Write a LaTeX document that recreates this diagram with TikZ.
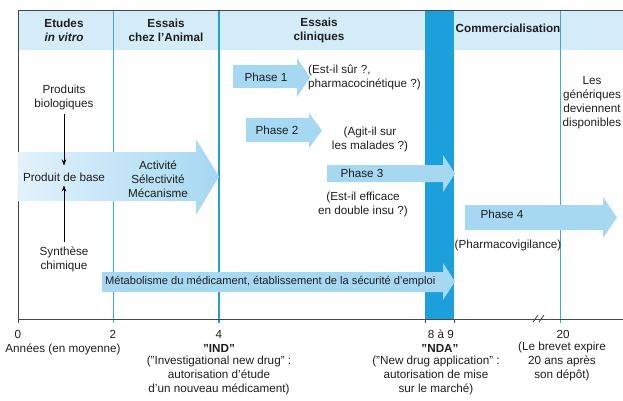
\documentclass[tikz,border=0pt]{standalone}
\usepackage{fontspec}
\setmainfont{Liberation Sans}
\usetikzlibrary{arrows.meta}
\definecolor{hdrblue}{RGB}{212,236,248}
\definecolor{arrowblue}{RGB}{166,216,242}
\definecolor{arrowpale}{RGB}{226,242,251}
\definecolor{bandblue}{RGB}{28,160,220}
\definecolor{lineblue}{RGB}{60,170,222}
\definecolor{framegray}{RGB}{70,70,70}
\definecolor{txt}{RGB}{30,30,30}
\begin{document}
\begin{tikzpicture}[x=1pt,y=-1pt,
  every node/.style={inner sep=0pt, align=center, text=txt, font=\fontsize{11.7}{14}\selectfont},
  hdr/.style={font=\fontsize{11.7}{14}\selectfont\bfseries},
  bold/.style={font=\fontsize{11.7}{14}\selectfont\bfseries},
  fat/.style={fill=arrowblue, draw=none},
  vline/.style={draw=lineblue, line width=1pt},
  frame/.style={draw=framegray, line width=0.9pt},
  conn/.style={draw=black, line width=0.8pt, -{Stealth[length=6pt,width=4.5pt]}},
  tickmark/.style={draw=framegray, line width=0.8pt}]
\useasboundingbox (0,0) rectangle (623,401);
% header band
\fill[hdrblue] (18,10) rectangle (623,50);
% vertical lines
\draw[vline] (113,10) -- (113,323);
\draw[vline] (560,10) -- (560,323);
\draw[draw=bandblue, line width=2pt] (219,10) -- (219,323);
\fill[bandblue] (425,10) rectangle (454,319);
% frame and axis
\draw[frame] (623,10) -- (18,10) -- (18,319) -- (623,319);
\draw[tickmark] (18,319) -- (18,323);
\draw[tickmark] (425,319) -- (425,323);
\draw[tickmark] (454,319) -- (454,323);
\draw[tickmark] (533,322) -- (538,315);
\draw[tickmark] (539,322) -- (544,315);
% big arrows
\path[left color=arrowpale, right color=arrowblue, draw=none]
  (18,152) -- (196,152) -- (196,139) -- (219,176.5) -- (196,215) -- (196,201) -- (18,201) -- cycle;
\path[fat] (233,65) -- (297,65) -- (297,58) -- (310,77.5) -- (297,97) -- (297,88) -- (233,88) -- cycle;
\path[fat] (246,118) -- (309,118) -- (309,113) -- (322,130.5) -- (309,148) -- (309,142) -- (246,142) -- cycle;
\path[fat] (327,165) -- (443,165) -- (443,155) -- (455,173.5) -- (443,192) -- (443,182) -- (327,182) -- cycle;
\path[left color=arrowblue, middle color=arrowpale, right color=arrowblue, draw=none]
  (465,205) -- (603,205) -- (603,197) -- (617,217.5) -- (603,238) -- (603,230) -- (465,230) -- cycle;
\path[fat] (102,272) -- (443,272) -- (443,263) -- (455,281.5) -- (443,300) -- (443,292) -- (102,292) -- cycle;
% header texts
\node[hdr] (h1) at (64,30) {Etudes\\\textit{in vitro}};
\node[hdr] (h2) at (166,30) {Essais\\chez l'Animal};
\node[hdr] (h3) at (319,30) {Essais\\cliniques};
\node[hdr] (h4) at (508,28) {Commercialisation};
% left column
\node (bio) at (64,97) {Produits\\biologiques};
\node (base) at (64,177) {Produit de base};
\node (synth) at (64,259) {Synthèse\\chimique};
\draw[conn, shorten <=4pt, shorten >=7pt] (bio.south) -- (base.north);
\draw[conn, shorten <=4pt, shorten >=4pt] (synth.north) -- (base.south);
\node (act) at (158,179) {Activité\\Sélectivité\\Mécanisme};
% phases
\node (p1) at (266,77) {Phase 1};
\node[anchor=west, align=left] (q1) at (308,77) {(Est-il sûr ?,\\pharmacocinétique ?)};
\node (p2) at (277,130) {Phase 2};
\node (q2) at (370,139.5) {(Agit-il sur\\les malades ?)};
\node (p3) at (362,173) {Phase 3};
\node (q3) at (363,204) {(Est-il efficace\\en double insu ?)};
\node (p4) at (502,214) {Phase 4};
\node (q4) at (508,245) {(Pharmacovigilance)};
\node[anchor=west, font=\fontsize{11.1}{14}\selectfont] (met) at (105,282) {Métabolisme du médicament, établissement de la sécurité d'emploi};
\node (gen) at (592,103) {Les\\génériques\\deviennent\\disponibles};
% axis labels
\node (a0) at (18,334) {0};
\node (ann) at (63,349) {Années (en moyenne)};
\node (a2) at (113,334) {2};
\node (a4) at (219,334) {4};
\node[bold] (ind) at (219,348) {"IND"};
\node[anchor=north] (indt) at (219,356) {("Investigational new drug" :\\autorisation d'étude\\d'un nouveau médicament)};
\node (a89) at (441,334) {8 à 9};
\node[bold] (nda) at (440,348) {"NDA"};
\node[anchor=north] (ndat) at (436,356) {("New drug application" :\\autorisation de mise\\sur le marché)};
\node (a20) at (563,334) {20};
\node[anchor=north] (brev) at (562,342) {(Le brevet expire\\20 ans après\\son dépôt)};
\end{tikzpicture}
\end{document}
